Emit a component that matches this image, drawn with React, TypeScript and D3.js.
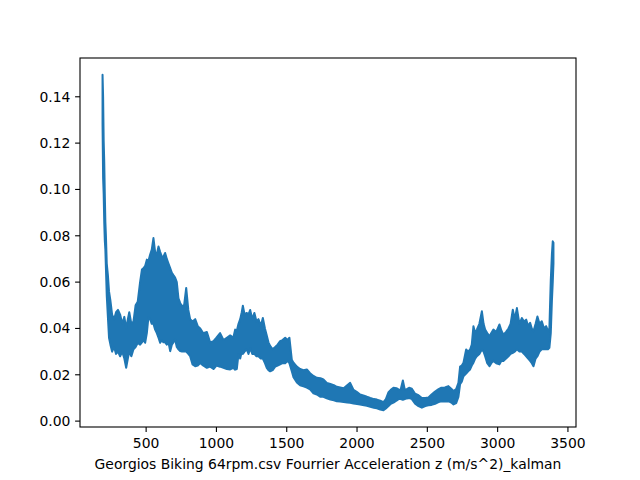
import React, { useEffect, useRef } from 'react';
import * as d3 from 'd3';

// envelope of the kalman-filtered spectrum: sample x, upper and lower edge of the band
const sampleX = [
  190, 194, 198, 202, 206, 210, 214, 220, 228, 236,
  246, 258, 272, 286, 300, 315, 330, 345, 358, 370,
  380, 395, 410, 425, 440, 457, 470, 481, 493, 505,
  516, 528, 540, 552, 564, 576, 588, 600, 612, 623,
  635, 647, 659, 671, 683, 694, 706, 718, 730, 742,
  755, 770, 785, 800, 813, 830, 849, 867, 885, 905,
  932, 955, 979, 1000, 1026, 1050, 1074, 1098, 1120, 1133,
  1145, 1157, 1169, 1180, 1188, 1200, 1216, 1228, 1240, 1255,
  1270, 1285, 1299, 1315, 1330, 1345, 1358, 1370, 1382, 1400,
  1418, 1435, 1453, 1470, 1489, 1505, 1519, 1536, 1548, 1572,
  1595, 1619, 1643, 1666, 1690, 1714, 1740, 1761, 1785, 1810,
  1835, 1856, 1880, 1905, 1930, 1951, 1975, 2000, 2022, 2050,
  2070, 2094, 2120, 2141, 2165, 2188, 2205, 2224, 2240, 2259,
  2280, 2295, 2310, 2326, 2340, 2354, 2370, 2390, 2413, 2437,
  2461, 2485, 2508, 2530, 2555, 2580, 2600, 2625, 2650, 2670,
  2686, 2705, 2721, 2733, 2745, 2757, 2776, 2790, 2804, 2816,
  2828, 2840, 2852, 2870, 2888, 2900, 2911, 2926, 2942, 2955,
  2970, 2990, 3013, 3027, 3041, 3060, 3077, 3092, 3108, 3122,
  3137, 3155, 3172, 3188, 3203, 3217, 3231, 3243, 3255, 3270,
  3283, 3298, 3314, 3330, 3345, 3358, 3368, 3378, 3386, 3392,
  3397,
];

const upperEdge = [
  0.1495, 0.14, 0.121, 0.112, 0.098, 0.086, 0.08, 0.068, 0.063, 0.056,
  0.052, 0.046, 0.044, 0.047, 0.048, 0.046, 0.042, 0.045, 0.04, 0.044,
  0.047, 0.042, 0.043, 0.05, 0.0515, 0.06, 0.0654, 0.066, 0.067, 0.0697,
  0.069, 0.0718, 0.074, 0.079, 0.073, 0.072, 0.0754, 0.073, 0.071, 0.071,
  0.0726, 0.07, 0.068, 0.066, 0.064, 0.063, 0.062, 0.06, 0.053, 0.051,
  0.0496, 0.05, 0.0575, 0.048, 0.044, 0.043, 0.044, 0.041, 0.04, 0.038,
  0.0385, 0.034, 0.0345, 0.036, 0.038, 0.035, 0.036, 0.037, 0.036, 0.0395,
  0.039, 0.042, 0.044, 0.047, 0.0498, 0.046, 0.0467, 0.046, 0.048, 0.044,
  0.0467, 0.043, 0.044, 0.041, 0.0445, 0.04, 0.037, 0.034, 0.0325, 0.031,
  0.032, 0.033, 0.0345, 0.035, 0.036, 0.035, 0.036, 0.0265, 0.0252, 0.0235,
  0.0225, 0.022, 0.0223, 0.0207, 0.0195, 0.0187, 0.0185, 0.018, 0.0165, 0.016,
  0.0155, 0.0148, 0.0145, 0.0142, 0.0155, 0.0165, 0.0135, 0.0125, 0.0115, 0.011,
  0.0105, 0.01, 0.0095, 0.0093, 0.0088, 0.0082, 0.0095, 0.0125, 0.0135, 0.0144,
  0.0142, 0.0137, 0.0135, 0.0175, 0.0135, 0.0138, 0.0144, 0.014, 0.0118, 0.0112,
  0.01, 0.01, 0.0102, 0.0115, 0.0128, 0.0138, 0.0144, 0.0145, 0.0151, 0.014,
  0.013, 0.0138, 0.0165, 0.0235, 0.024, 0.0252, 0.0309, 0.03, 0.0309, 0.033,
  0.041, 0.038, 0.0395, 0.042, 0.0474, 0.042, 0.0395, 0.038, 0.0366, 0.038,
  0.0395, 0.0385, 0.0417, 0.039, 0.0373, 0.0385, 0.04, 0.042, 0.0481, 0.044,
  0.0488, 0.042, 0.0445, 0.043, 0.0438, 0.041, 0.0424, 0.04, 0.0388, 0.042,
  0.0452, 0.042, 0.0431, 0.04, 0.041, 0.039, 0.04, 0.061, 0.072, 0.0776,
  0.077,
];

const lowerEdge = [
  0.128, 0.105, 0.098, 0.086, 0.078, 0.074, 0.066, 0.054, 0.045, 0.036,
  0.033, 0.03, 0.032, 0.029, 0.03, 0.028, 0.03, 0.027, 0.023, 0.027,
  0.03, 0.028, 0.031, 0.032, 0.0337, 0.033, 0.034, 0.035, 0.0338, 0.038,
  0.0447, 0.044, 0.042, 0.042, 0.0395, 0.038, 0.036, 0.0338, 0.035, 0.034,
  0.034, 0.033, 0.034, 0.0302, 0.033, 0.034, 0.0352, 0.032, 0.031, 0.0302,
  0.03, 0.03, 0.03, 0.029, 0.028, 0.0245, 0.0237, 0.024, 0.0251, 0.024,
  0.023, 0.0235, 0.0225, 0.024, 0.0235, 0.023, 0.0225, 0.0223, 0.023, 0.0222,
  0.0225, 0.029, 0.027, 0.03, 0.029, 0.03, 0.031, 0.029, 0.0315, 0.029,
  0.029, 0.028, 0.028, 0.027, 0.027, 0.025, 0.023, 0.022, 0.0215, 0.022,
  0.0235, 0.024, 0.0245, 0.025, 0.025, 0.026, 0.025, 0.0215, 0.019, 0.0167,
  0.0155, 0.015, 0.0145, 0.0137, 0.012, 0.0115, 0.0105, 0.0105, 0.0098, 0.0093,
  0.009, 0.0086, 0.0085, 0.0082, 0.008, 0.0079, 0.0076, 0.0074, 0.0072, 0.0068,
  0.0066, 0.0062, 0.0058, 0.0055, 0.005, 0.0047, 0.0055, 0.0065, 0.0075, 0.008,
  0.0088, 0.0095, 0.0095, 0.0092, 0.0095, 0.0098, 0.01, 0.0095, 0.0075, 0.0065,
  0.0058, 0.0065, 0.0068, 0.007, 0.0075, 0.0082, 0.0086, 0.0085, 0.0086, 0.008,
  0.0072, 0.0078, 0.0105, 0.016, 0.017, 0.0194, 0.0205, 0.0215, 0.0223, 0.024,
  0.0252, 0.027, 0.028, 0.029, 0.0309, 0.03, 0.028, 0.025, 0.0237, 0.025,
  0.026, 0.025, 0.0245, 0.026, 0.026, 0.027, 0.028, 0.029, 0.0295, 0.03,
  0.031, 0.03, 0.03, 0.029, 0.028, 0.027, 0.026, 0.025, 0.0237, 0.027,
  0.028, 0.03, 0.031, 0.031, 0.031, 0.031, 0.0316, 0.038, 0.052, 0.06,
  0.068,
];

const xTicks = [500, 1000, 1500, 2000, 2500, 3000, 3500];
const yTicks = [0, 0.02, 0.04, 0.06, 0.08, 0.1, 0.12, 0.14];
const xLabel = 'Georgios Biking 64rpm.csv Fourrier Acceleration z (m/s^2)_kalman';

const App: React.FC = () => {
  const svgRef = useRef<SVGSVGElement | null>(null);

  useEffect(() => {
    const svg = d3.select(svgRef.current);
    svg.selectAll('*').remove();

    const width = 640;
    const height = 480;
    const left = 80, right = 576, top = 58, bottom = 427;
    const font = 'DejaVu Sans, sans-serif';

    const data = sampleX.map((x, i) => ({ x, hi: upperEdge[i], lo: lowerEdge[i] }));

    // matplotlib style 5% margins
    const [x0, x1] = d3.extent(sampleX) as [number, number];
    const yMin = d3.min(lowerEdge) as number;
    const yMax = d3.max(upperEdge) as number;
    const xPad = (x1 - x0) * 0.05;
    const yPad = (yMax - yMin) * 0.05;

    const xScale = d3.scaleLinear().domain([x0 - xPad, x1 + xPad]).range([left, right]);
    const yScale = d3.scaleLinear().domain([yMin - yPad, yMax + yPad]).range([bottom, top]);

    svg.append('rect').attr('width', width).attr('height', height).attr('fill', '#ffffff');

    svg.append('clipPath').attr('id', 'plot-clip')
      .append('rect')
      .attr('x', left).attr('y', top)
      .attr('width', right - left).attr('height', bottom - top);

    const band = d3.area<any>()
      .x((d) => xScale(d.x))
      .y0((d) => yScale(d.lo))
      .y1((d) => yScale(d.hi));

    svg.append('path')
      .datum(data)
      .attr('clip-path', 'url(#plot-clip)')
      .attr('fill', '#1f77b4')
      .attr('stroke', '#1f77b4')
      .attr('stroke-width', 2)
      .attr('stroke-linejoin', 'round')
      .attr('d', band as any);

    // frame
    svg.append('rect')
      .attr('x', left).attr('y', top)
      .attr('width', right - left).attr('height', bottom - top)
      .attr('fill', 'none')
      .attr('stroke', '#000')
      .attr('stroke-width', 1.1);

    const xAxis = svg.append('g').attr('transform', `translate(0,${bottom})`);
    xTicks.forEach((t) => {
      const px = xScale(t);
      xAxis.append('line').attr('x1', px).attr('x2', px).attr('y1', 0).attr('y2', 4.9)
        .attr('stroke', '#000').attr('stroke-width', 1.1);
      xAxis.append('text').attr('x', px).attr('y', 21)
        .attr('text-anchor', 'middle')
        .attr('font-family', font).attr('font-size', 13.9)
        .text(String(t));
    });

    const yAxis = svg.append('g').attr('transform', `translate(${left},0)`);
    yTicks.forEach((t) => {
      const py = yScale(t);
      yAxis.append('line').attr('x1', -4.9).attr('x2', 0).attr('y1', py).attr('y2', py)
        .attr('stroke', '#000').attr('stroke-width', 1.1);
      yAxis.append('text').attr('x', -9.7).attr('y', py)
        .attr('dy', '0.35em')
        .attr('text-anchor', 'end')
        .attr('font-family', font).attr('font-size', 13.9)
        .text(t.toFixed(2));
    });

    svg.append('text')
      .attr('x', (left + right) / 2).attr('y', 469)
      .attr('text-anchor', 'middle')
      .attr('font-family', font).attr('font-size', 13.9)
      .text(xLabel);
  }, []);

  return (
    <svg ref={svgRef} width={640} height={480}
      style={{ position: 'absolute', left: 0, top: 0, display: 'block' }}></svg>
  );
};

export default App;
